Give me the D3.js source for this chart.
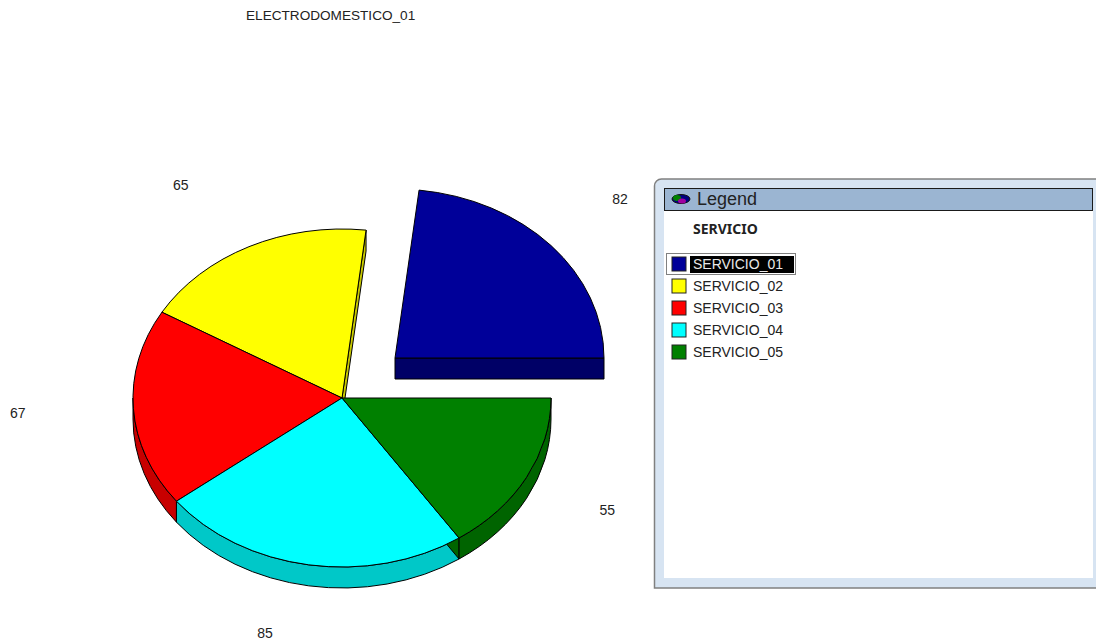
<!DOCTYPE html>
<html>
<head>
<meta charset="utf-8">
<script src="https://cdn.jsdelivr.net/npm/d3@7"></script>
<style>
html, body { margin: 0; padding: 0; background: #fff; overflow: hidden; }
text { font-family: "Liberation Sans", Arial, sans-serif; fill: #222; }
</style>
</head>
<body>
<script>
const chart_title = 'ELECTRODOMESTICO_01';
const legend_heading = 'SERVICIO';
const categories = ['SERVICIO_01', 'SERVICIO_02', 'SERVICIO_03', 'SERVICIO_04', 'SERVICIO_05'];
const values = [82, 65, 67, 85, 55];
const top_colors = ['#000099', '#ffff00', '#ff0000', '#00ffff', '#008000'];
const side_colors = ['#000066', '#c8c800', '#c80000', '#00c8c8', '#006400'];
const exploded = [true, false, false, false, false];

const width = 1096;
const height = 644;
const center = {x: 342, y: 398};
const explode_offset = {x: 53, y: -40};
const rx = 209;
const ry = 169;
const depth = 21;

const svg = d3.select('body')
    .append('svg')
    .attr('width', width)
    .attr('height', height)
    .style('display', 'block');

svg.append('text')
    .attr('x', 246)
    .attr('y', 20)
    .attr('font-size', '13.6px')
    .text(chart_title);

// counter-clockwise from 3 o'clock
const pie = d3.pie()
    .sort(null)
    .value(function (d) { return d; })
    .startAngle(Math.PI / 2)
    .endAngle(Math.PI / 2 - 2 * Math.PI);

const slices = pie(values);

// the circle is squashed to an ellipse, so y goes through its own scale
const x_scale = d3.scaleLinear().domain([-1, 1]).range([-rx, rx]);
const y_scale = d3.scaleLinear().domain([-1, 1]).range([ry, -ry]);

const arc = d3.arc().innerRadius(0).outerRadius(rx);

function math_angle(a) {
    return Math.PI / 2 - a;
}

function point(t, dy) {
    return [x_scale(Math.cos(t)), y_scale(Math.sin(t)) + (dy || 0)];
}

function rim_path(t0, t1) {
    const from = Math.max(t0, Math.PI);
    const to = Math.min(t1, 2 * Math.PI);
    if (to <= from) return null;
    const a = point(from), b = point(to), c = point(to, depth), e = point(from, depth);
    return 'M' + a + 'A' + rx + ',' + ry + ' 0 0 0 ' + b + 'L' + c +
        'A' + rx + ',' + ry + ' 0 0 1 ' + e + 'Z';
}

function face_path(t) {
    const a = point(t), b = point(t, depth);
    return 'M0,0L' + a + 'L' + b + 'L0,' + depth + 'Z';
}

const pie_g = svg.append('g')
    .attr('transform', 'translate(' + center.x + ',' + center.y + ')');

function slice_transform(i) {
    return exploded[i] ? 'translate(' + explode_offset.x + ',' + explode_offset.y + ')' : null;
}

// sides go first so the tops cover whatever should be hidden
slices.forEach(function (d, i) {
    const g = pie_g.append('g').attr('transform', slice_transform(i));
    g.append('path')
        .attr('d', face_path(math_angle(d.startAngle)))
        .attr('fill', side_colors[i])
        .attr('stroke', '#000');
    const rim = rim_path(math_angle(d.startAngle), math_angle(d.endAngle));
    if (rim) {
        g.append('path')
            .attr('d', rim)
            .attr('fill', side_colors[i])
            .attr('stroke', '#000');
    }
});

slices.forEach(function (d, i) {
    pie_g.append('g')
        .attr('transform', slice_transform(i))
        .append('path')
        .attr('transform', 'scale(1,' + (ry / rx) + ')')
        .attr('d', arc({startAngle: d.endAngle, endAngle: d.startAngle}))
        .attr('fill', top_colors[i])
        .attr('stroke', '#000')
        .attr('vector-effect', 'non-scaling-stroke');
});

// value labels sit outside the ellipse, left side ones pushed further out
slices.forEach(function (d, i) {
    const t = math_angle((d.startAngle + d.endAngle) / 2);
    const off = exploded[i] ? explode_offset : {x: 0, y: 0};
    const label_x = center.x + off.x + x_scale(1.41 * Math.cos(t)) + (Math.cos(t) > 0 ? 5 : -30);
    const label_y = center.y + off.y + y_scale(1.41 * Math.sin(t));
    svg.append('text')
        .attr('x', label_x)
        .attr('y', label_y + 5)
        .attr('text-anchor', 'middle')
        .attr('font-size', '14px')
        .text(values[i]);
});

// legend window
const legend = svg.append('g');

legend.append('path')
    .attr('d', 'M654.5,588V186a7,7 0 0 1 7,-7H1100V588Z')
    .attr('fill', '#d7e4f2')
    .attr('stroke', '#808080')
    .attr('stroke-width', 1.5);

legend.append('rect')
    .attr('x', 664)
    .attr('y', 188)
    .attr('width', 429)
    .attr('height', 390)
    .attr('fill', '#fff');

legend.append('rect')
    .attr('x', 664.5)
    .attr('y', 188.5)
    .attr('width', 428)
    .attr('height', 22)
    .attr('fill', '#9bb5d2')
    .attr('stroke', '#1a1a1a');

legend.append('ellipse').attr('cx', 681).attr('cy', 199).attr('rx', 9).attr('ry', 4.5)
    .attr('fill', '#000080').attr('stroke', '#111');
legend.append('ellipse').attr('cx', 677).attr('cy', 198).attr('rx', 4).attr('ry', 3)
    .attr('fill', '#008000');
legend.append('ellipse').attr('cx', 682).attr('cy', 201).attr('rx', 4).attr('ry', 2.5)
    .attr('fill', '#a000a0');

legend.append('text')
    .attr('x', 697)
    .attr('y', 205)
    .attr('font-size', '18px')
    .text('Legend');

legend.append('text')
    .attr('x', 693)
    .attr('y', 234)
    .attr('font-size', '14px')
    .attr('font-weight', 'bold')
    .style('font-family', '"Noto Sans", sans-serif')
    .text(legend_heading);

const row_scale = d3.scalePoint()
    .domain(categories)
    .range([264, 352]);

const selected = categories[0];

legend.append('rect')
    .attr('x', 666.5)
    .attr('y', 253.5)
    .attr('width', 129)
    .attr('height', 21)
    .attr('fill', 'none')
    .attr('stroke', '#000')
    .attr('stroke-dasharray', '1,1');

legend.append('rect')
    .attr('x', 690)
    .attr('y', 256)
    .attr('width', 104)
    .attr('height', 17)
    .attr('fill', '#000');

const rows = legend.selectAll('g.row')
    .data(categories)
    .enter()
    .append('g')
    .attr('class', 'row')
    .attr('transform', function (d) {
        return 'translate(0,' + row_scale(d) + ')';
    });

rows.append('rect')
    .attr('x', 672)
    .attr('y', -7)
    .attr('width', 14)
    .attr('height', 14)
    .attr('fill', function (d, i) { return top_colors[i]; })
    .attr('stroke', '#222');

rows.append('text')
    .attr('x', 693)
    .attr('y', 5)
    .attr('font-size', '14px')
    .style('fill', function (d) { return d === selected ? '#e8e8e8' : '#222'; })
    .text(function (d) { return d; });
</script>
</body>
</html>
